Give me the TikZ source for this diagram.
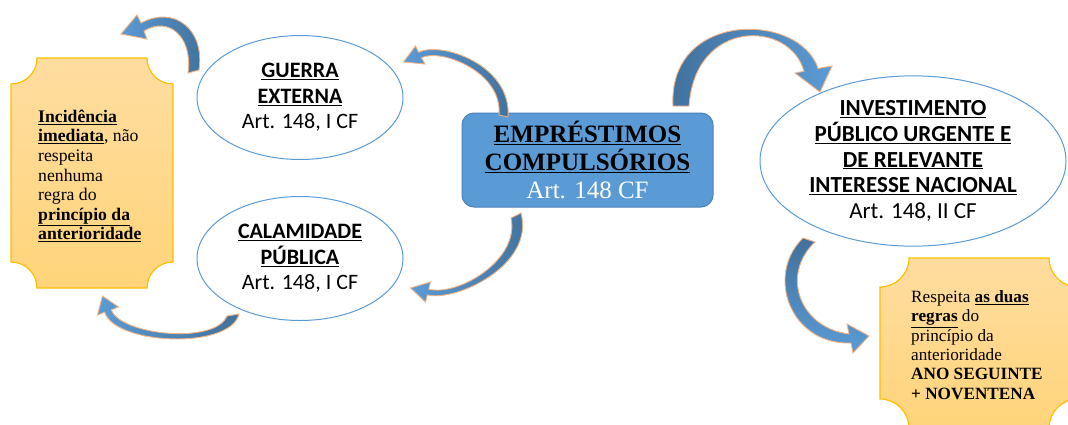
\documentclass[tikz,border=0pt]{standalone}
\usepackage{fontspec}
\setmainfont{Liberation Serif}
\newfontfamily\calfont{Carlito}
\usetikzlibrary{shapes.geometric}
\definecolor{eblue}{HTML}{5B9BD5}
\definecolor{bblue}{HTML}{5B9BD5}
\definecolor{bborder}{HTML}{4A82BE}
\definecolor{adark}{HTML}{41719C}
\definecolor{alight}{HTML}{5B9BD5}
\definecolor{aglow}{HTML}{F4B183}
\definecolor{ptop}{HTML}{FFDDA0}
\definecolor{pbot}{HTML}{FFD47A}
\definecolor{pborder}{HTML}{FFC000}
\tikzset{
  ell/.style={ellipse, draw=eblue, line width=1pt, inner sep=0pt, minimum width=206pt, minimum height=124pt, align=center, font=\calfont\fontsize{22}{25.5}\selectfont},
  centerbox/.style={rectangle, rounded corners=12pt, draw=bborder, fill=bblue, line width=1pt, minimum width=251pt, minimum height=94pt, inner sep=0pt, align=center, font=\bfseries\fontsize{25}{28}\selectfont},
  blockarrow/.style={draw=aglow, line width=0.9pt},
  plaque/.style={draw=pborder, line width=1.2pt, top color=ptop, bottom color=pbot},
  plaquetext/.style={anchor=west, align=left, inner sep=0pt}
}
\begin{document}
\begin{tikzpicture}[x=1pt,y=-1pt]
\clip (0,0) rectangle (1068,424);
\fill[white] (0,0) rectangle (1068,424);

% plaques
\path[plaque] (37,58) -- (147,58) .. controls (147,72.4) and (158.6,84) .. (173,84) -- (173,262) .. controls (158.6,262) and (147,273.6) .. (147,288) -- (37,288) .. controls (37,273.6) and (25.4,262) .. (11,262) -- (11,84) .. controls (25.4,84) and (37,72.4) .. (37,58) -- cycle;
\path[plaque] (909,258) -- (1049,258) .. controls (1049,274) and (1062,287) .. (1078,287) -- (1078,399) .. controls (1062,399) and (1049,412) .. (1049,428) -- (909,428) .. controls (909,412) and (896,399) .. (880,399) -- (880,287) .. controls (896,287) and (909,274) .. (909,258) -- cycle;

\node[plaquetext, font=\fontsize{17.7}{19.6}\selectfont] (lefttext) at (38,176)
 {\underline{\textbf{Incidência}}\\ \underline{\textbf{imediata}}, não\\ respeita\\ nenhuma\\ regra do\\ \underline{\textbf{princípio da}}\\ \underline{\textbf{anterioridade}}};
\node[plaquetext, font=\fontsize{17.2}{19.4}\selectfont] (righttext) at (911,345)
 {Respeita \underline{\textbf{as duas}}\\ \underline{\textbf{regras}} do\\ princípio da\\ anterioridade\\ \textbf{ANO SEGUINTE}\\ \textbf{+ NOVENTENA}};

% ellipses
\node[ell] (guerra) at (300,97.5) {\textbf{\underline{GUERRA}}\\ \textbf{\underline{EXTERNA}}\\ Art. 148, I CF};
\node[ell] (calam) at (300,258.5) {\textbf{\underline{CALAMIDADE}}\\ \textbf{\underline{PÚBLICA}}\\ Art. 148, I CF};
\node[ell, minimum width=306pt, minimum height=168pt, font=\calfont\fontsize{23}{25.6}\selectfont] (invest) at (913,161)
 {\textbf{\underline{INVESTIMENTO}}\\ \textbf{\underline{PÚBLICO URGENTE E}}\\ \textbf{\underline{DE RELEVANTE}}\\ \textbf{\underline{INTERESSE NACIONAL}}\\ Art. 148, II CF};

% center box
\node[centerbox] (emp) at (587.5,160) {\underline{EMPRÉSTIMOS}\\ \underline{COMPULSÓRIOS}\\ {\color{white}\mdseries Art. 148 CF}};

% curved block arrows
% guerra -> left plaque
\path[blockarrow, left color=alight, right color=adark]
 (199,70) .. controls (205,30) and (175,5) .. (141,23) -- (137,15) -- (121,34) -- (147,39) -- (144,31)
 .. controls (168,16) and (193,36) .. (188,73) -- cycle;
% calamidade -> left plaque
\path[blockarrow, left color=alight, right color=adark]
 (239,314) .. controls (230,350) and (115,345) .. (104.7,312.2) -- (97.5,315) -- (102.5,296) -- (118.5,307) -- (111.3,309.8)
 .. controls (120,335) and (215,345) .. (227,316) -- cycle;
% emp -> guerra
\path[blockarrow, left color=alight, right color=adark]
 (508,117) .. controls (512,65) and (441,41) .. (418.6,52.3) -- (415.5,46) -- (403.5,62) -- (425,64) -- (421.4,57.7)
 .. controls (441,48) and (503,72) .. (499,115) -- cycle;
% emp -> calamidade
\path[blockarrow, left color=alight, right color=adark]
 (521,213) .. controls (535,265) and (456,302) .. (427.25,294.9) -- (425.5,302) -- (410.5,288) -- (430.5,282) -- (428.75,289.1)
 .. controls (458,296.6) and (520,260) .. (511,218) -- cycle;
% emp -> investimento
\path[blockarrow, left color=adark, right color=alight]
 (673,106) .. controls (668,10) and (800,12) .. (818,68.5) -- (832,66) -- (820,92) -- (795,73) -- (804,71.3)
 .. controls (790,20) and (695,18) .. (689,106) -- cycle;
% investimento -> right plaque
\path[blockarrow, top color=adark, bottom color=alight]
 (803,238) .. controls (765,275) and (790,345) .. (851,343) -- (853,353) -- (869,336) -- (847,324) -- (849,334)
 .. controls (800,328) and (780,275) .. (815,242) -- cycle;
\end{tikzpicture}
\end{document}
